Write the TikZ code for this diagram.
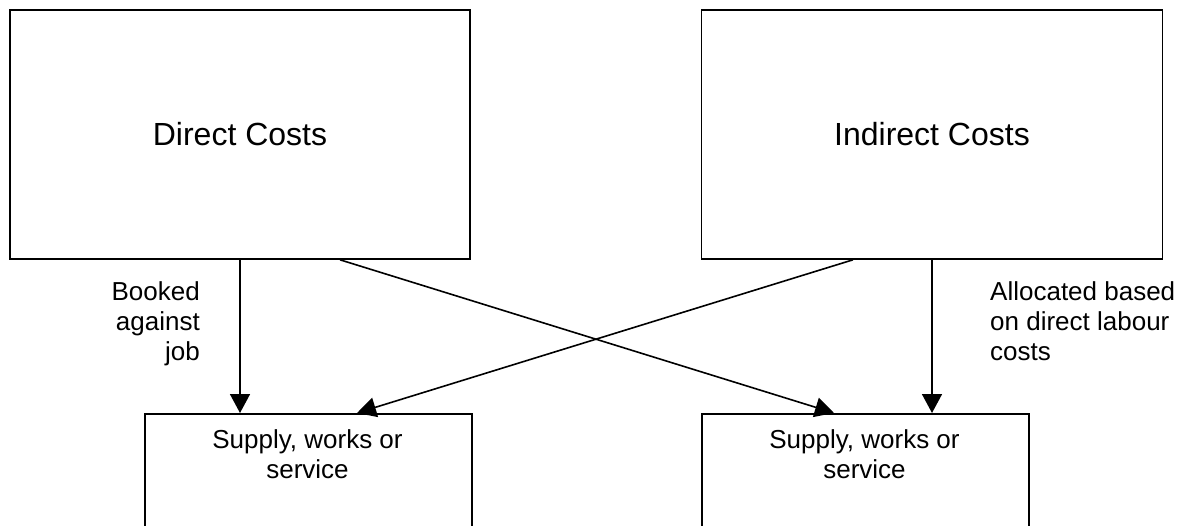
\documentclass[tikz,border=0pt]{standalone}
\usepackage{fontspec}
\setmainfont{Liberation Sans}
\usetikzlibrary{arrows.meta}
\begin{document}
\begin{tikzpicture}[x=1pt,y=-1pt,
  box/.style={draw,line width=1.6pt,inner sep=0pt,rectangle},
  big/.style={font=\fontsize{32}{38}\selectfont},
  small/.style={font=\fontsize{26}{30}\selectfont,inner sep=0pt},
  arr/.style={line width=1.6pt,-{Triangle[width=20pt,length=19pt]}}]
\useasboundingbox (0,0) rectangle (1189,525);
\clip (0,0) rectangle (1189,525);
\node[box,big,minimum width=460pt,minimum height=249pt] (dc) at (240,134.5) {Direct Costs};
\node[box,big,minimum width=461pt,minimum height=249pt] (ic) at (932,134.5) {Indirect Costs};
\node[box,minimum width=327pt,minimum height=160pt,anchor=north west] (sl) at (144,413) {};
\node[box,minimum width=327pt,minimum height=160pt,anchor=north west] (sr) at (701,413) {};
\node[small,align=center,anchor=base] (slt) at (307.5,478) {Supply, works or\\service};
\node[small,align=center,anchor=base] (srt) at (864.5,478) {Supply, works or\\service};
\node[small,align=right,anchor=base east] (bk) at (200,360) {Booked\\against\\job};
\node[small,align=left,anchor=base west] (al) at (990,360) {Allocated based\\on direct labour\\costs};
\draw[arr] (dc.south) -- (dc.south |- sl.north);
\draw[arr] ([xshift=100pt]dc.south) -- ([xshift=133pt]sr.north west);
\draw[arr] ([xshift=-79pt]ic.south) -- ([xshift=213pt]sl.north west);
\draw[arr] (ic.south) -- (ic.south |- sr.north);
\end{tikzpicture}
\end{document}
